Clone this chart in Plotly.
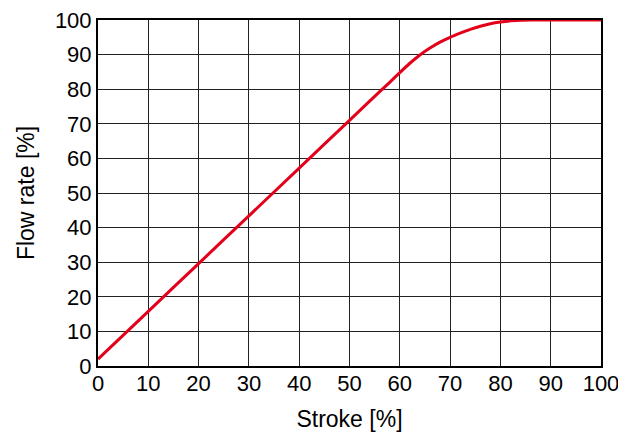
import plotly.graph_objects as go

stroke = [0, 10, 20, 30, 40, 50, 56, 58, 60, 62, 64, 66, 68, 70, 72, 74, 76, 78, 80, 82, 84, 86, 90, 100]
flow = [2, 15.8, 29.6, 43.4, 57.2, 71.0, 79.3, 82.0, 84.8, 87.5, 89.9, 91.9, 93.6, 95.0, 96.2, 97.3, 98.2, 98.9, 99.4, 99.75, 99.95, 100, 100, 100]
ticks = list(range(0, 101, 10))

fig = go.Figure()
fig.add_trace(go.Scatter(x=stroke, y=flow, mode="lines",
                         line=dict(color="#e3001b", width=3, shape="spline", smoothing=0.5),
                         showlegend=False))

tick_font = dict(family="Liberation Sans, Arial, sans-serif", size=22, color="black")
title_font = dict(family="Liberation Sans, Arial, sans-serif", size=23, color="black")
axis_common = dict(range=[0, 100], tickvals=ticks, showgrid=True, gridcolor="#222222", gridwidth=1,
                   showline=True, linecolor="black", linewidth=2, mirror=True,
                   ticks="", zeroline=False, tickfont=tick_font, title_font=title_font,
                   automargin=False, ticklabeloverflow="allow")

fig.update_xaxes(**axis_common, title_text="Stroke [%]", title_standoff=15, ticklabelstandoff=-3)
fig.update_yaxes(**axis_common, title_text="Flow rate [%]", title_standoff=14)

fig.update_layout(width=626, height=432,
                  margin=dict(l=90, r=33, t=12, b=74, pad=0),
                  plot_bgcolor="white", paper_bgcolor="white")

fig.write_html("out.html")
